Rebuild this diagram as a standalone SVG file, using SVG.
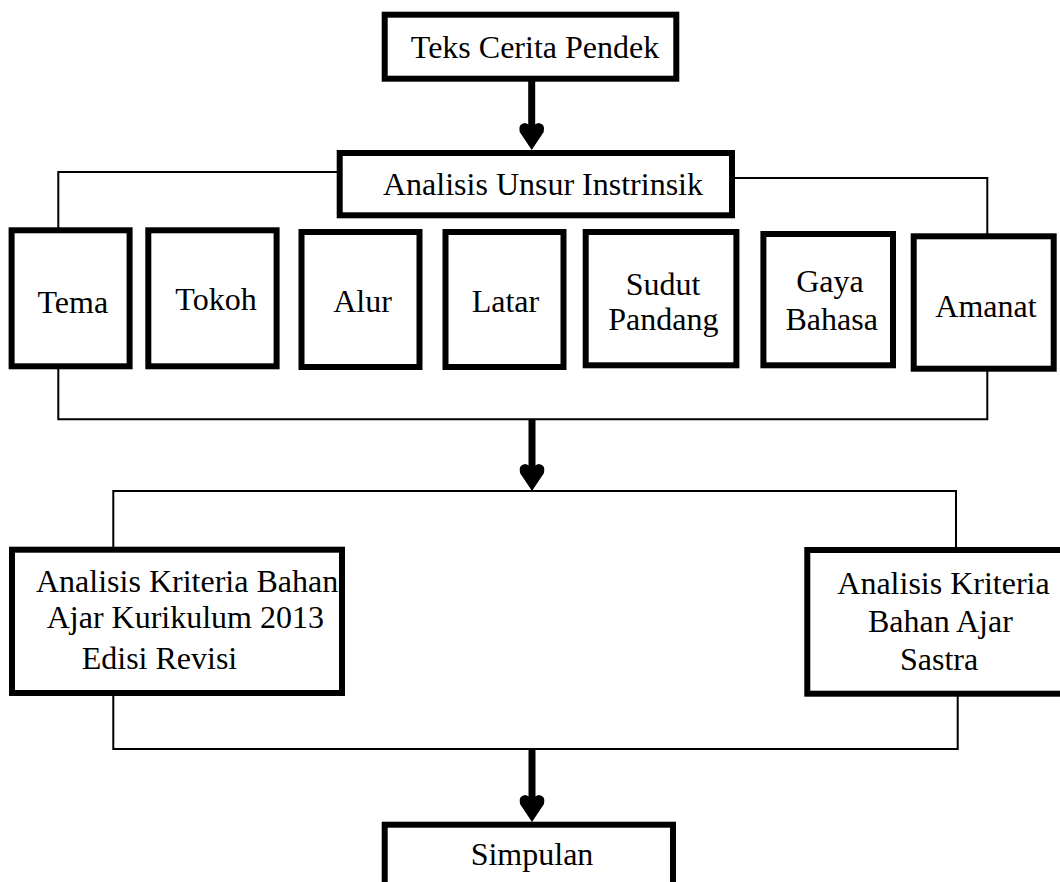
<svg xmlns="http://www.w3.org/2000/svg" xmlns:xlink="http://www.w3.org/1999/xlink" width="1060" height="882" viewBox="0 0 1060 882">
<style>
.box{fill:#fff;stroke:#000;stroke-width:6}
.thin{fill:none;stroke:#000;stroke-width:2}
.shaft{stroke:#000;stroke-width:7}
text{font-family:"Liberation Serif","Times New Roman",serif;font-size:32px;fill:#000}
.c{text-anchor:middle}
</style>
<defs>
<path id="head" d="M0,0 L-12,-18 Q-14,-26 -7,-27 Q-3,-27 0,-21 Q3,-27 7,-27 Q14,-26 12,-18 Z" fill="#000"/>
</defs>
<rect width="1060" height="882" fill="#fff"/>
<g id="connectors">
<polyline class="thin" points="339.7,172 58.3,172 58.3,230"/>
<polyline class="thin" points="732,178 987.3,178 987.3,236"/>
<polyline class="thin" points="58.3,366 58.3,419.3 987.3,419.3 987.3,369"/>
<polyline class="thin" points="113.3,549.7 113.3,491 956,491 956,550"/>
<polyline class="thin" points="113.3,693 113.3,749 957.7,749 957.7,694"/>
<line class="shaft" x1="531.7" y1="79" x2="531.7" y2="135"/>
<use xlink:href="#head" x="531.7" y="150"/>
<line class="shaft" x1="532" y1="419" x2="532" y2="476"/>
<use xlink:href="#head" x="532" y="491"/>
<line class="shaft" x1="532" y1="749" x2="532" y2="807"/>
<use xlink:href="#head" x="532" y="822"/>
</g>
<g id="teks"><rect class="box" x="384.7" y="14.7" width="291.6" height="64"/><text class="c" x="535" y="58">Teks Cerita Pendek</text></g>
<g id="analisis-unsur"><rect class="box" x="339.7" y="153" width="392.3" height="62.3"/><text class="c" x="543" y="195">Analisis Unsur Instrinsik</text></g>
<g id="tema"><rect class="box" x="11.6" y="230.3" width="118" height="136"/><text class="c" x="72.8" y="312.7">Tema</text></g>
<g id="tokoh"><rect class="box" x="148.3" y="230.3" width="128.3" height="136"/><text class="c" x="216" y="310">Tokoh</text></g>
<g id="alur"><rect class="box" x="301.5" y="232" width="118" height="135"/><text class="c" x="362.5" y="311.7">Alur</text></g>
<g id="latar"><rect class="box" x="445.5" y="232" width="118" height="135"/><text class="c" x="505.4" y="311.7">Latar</text></g>
<g id="sudut-pandang"><rect class="box" x="585.7" y="232" width="150.7" height="133.3"/><text class="c" x="663" y="295">Sudut</text><text class="c" x="663.4" y="330">Pandang</text></g>
<g id="gaya-bahasa"><rect class="box" x="763.4" y="234" width="129.6" height="131.3"/><text class="c" x="830" y="291.7">Gaya</text><text class="c" x="831.7" y="330">Bahasa</text></g>
<g id="amanat"><rect class="box" x="913.7" y="236.3" width="140" height="132.4"/><text class="c" x="986" y="316.7">Amanat</text></g>
<g id="kriteria-k13"><rect class="box" x="12" y="549.7" width="330" height="143.3"/><text x="36" y="591.7">Analisis Kriteria Bahan</text><text x="46.7" y="628.3">Ajar Kurikulum 2013</text><text x="81.7" y="669.3">Edisi Revisi</text></g>
<g id="kriteria-sastra"><rect class="box" x="807.3" y="550" width="260" height="143.7"/><text x="837.3" y="594.3">Analisis Kriteria</text><text x="868" y="631.7">Bahan Ajar</text><text x="900" y="670">Sastra</text></g>
<g id="simpulan"><rect class="box" x="384.7" y="824.7" width="288.3" height="70"/><text class="c" x="532" y="865">Simpulan</text></g>
</svg>
